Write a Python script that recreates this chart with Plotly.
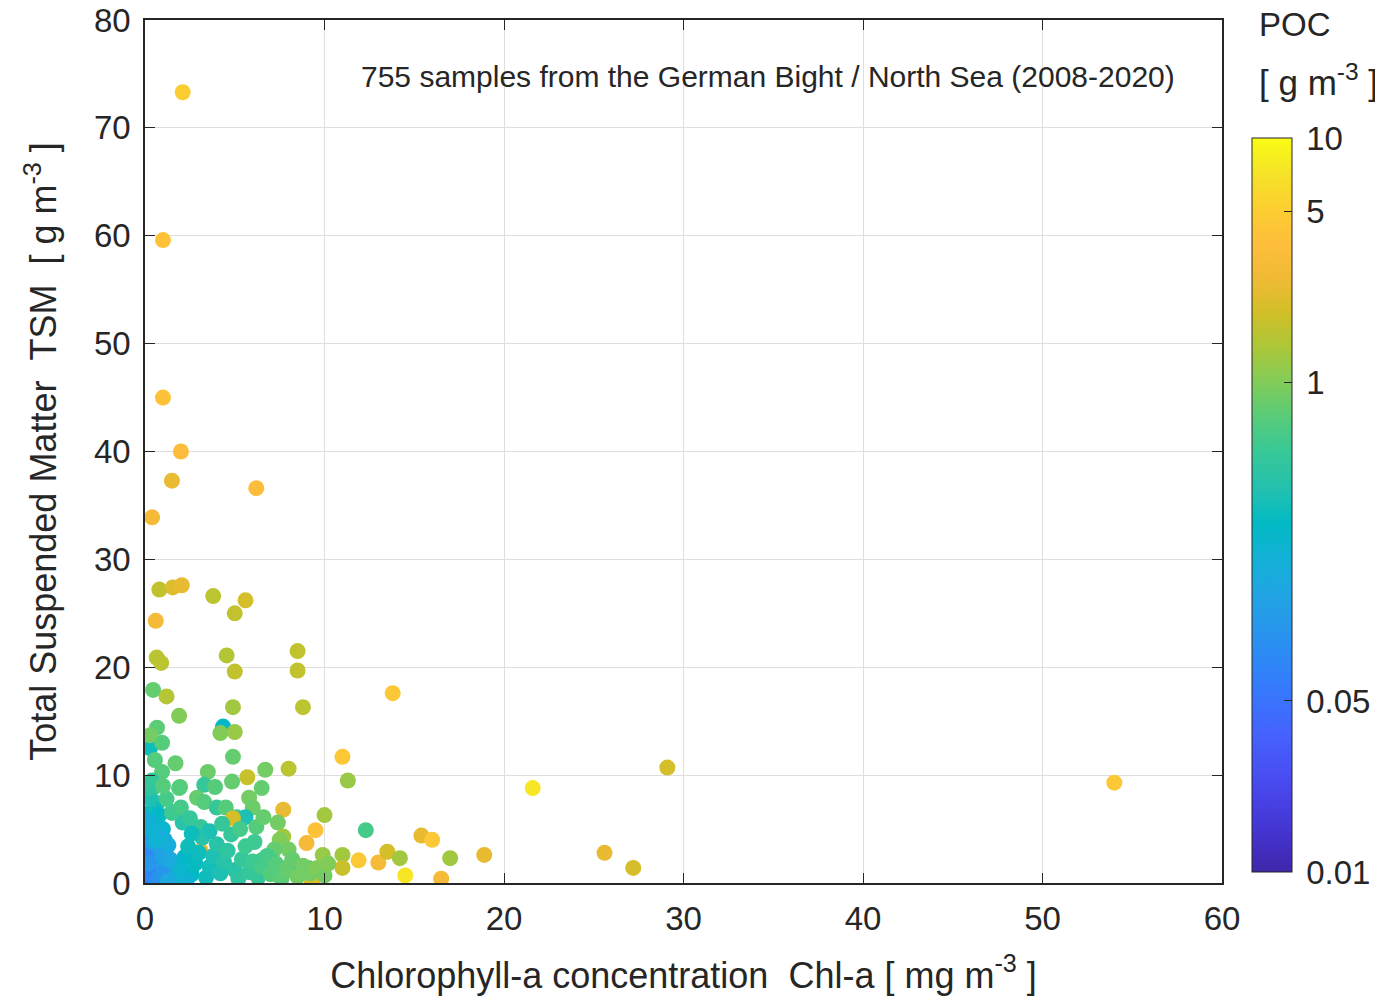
import plotly.graph_objects as go
import numpy as np

# ---- data: (Chl-a [mg m-3], TSM [g m-3], POC [g m-3]) ----
chl = [
    # outliers / sparse points
    2.1, 1.0, 1.0, 2.0, 1.5, 6.2, 0.4, 0.8, 1.55, 2.05, 3.8, 5.6, 5.0, 0.6, 0.65, 0.9,
    4.55, 8.5, 8.5, 5.0, 0.45, 1.2, 8.8, 1.9, 4.9, 13.8, 4.35, 0.67, 0.28, 54.0, 21.6, 29.1,
    # mid-range green points
    0.95, 0.28, 0.55, 0.95, 1.7, 4.2, 5.0, 4.9, 3.5, 6.7, 8.0, 11.0, 11.3, 6.5, 0.45, 1.95,
    3.3, 3.9, 4.85, 5.7, 2.9, 3.3, 4.0, 4.5, 5.8, 6.0, 7.7, 0.7, 1.5, 10.0, 9.5, 9.0,
    12.3, 2.1, 3.1, 5.1, 5.6, 6.2, 7.4, 7.7, 6.6, 4.9, 3.1, 2.05,
    # right-hand low points
    11.0, 11.9, 13.0, 11.0, 9.9, 9.9, 9.1, 7.5, 8.0, 7.2, 6.5, 7.6, 9.3, 7.6, 7.1, 8.7,
    15.4, 16.0, 13.5, 14.2, 14.5, 16.5, 17.0, 18.9, 25.6, 27.2,
    # blue core near origin
    0.05, 0.1, 0.15, 0.1, 0.2, 0.25, 0.35, 0.4, 0.45, 0.5, 0.6, 0.65, 0.7, 0.75, 0.85, 0.9,
    1.0, 1.1, 1.2, 1.3, 0.3, 0.6, 0.2, 0.5, 0.8, 0.3, 0.15, 1.0, 1.1, 0.05, 0.55, 1.4,
    1.5, 1.6, 0.25, 0.4, 0.1, 0.3, 0.2, 0.7, 1.0, 0.4, 0.6,
    # teal band along the bottom
    1.8, 2.0, 2.2, 2.4, 2.6, 2.8, 3.0, 3.2, 3.4, 3.6, 3.8, 4.0, 4.2, 4.4, 4.6, 4.8,
    5.0, 5.2, 5.4, 5.6, 5.8, 6.0, 6.3, 6.5, 6.8, 7.0, 7.3, 7.6, 7.9, 8.2, 8.5, 8.8,
    9.2, 9.6, 10.0, 10.2, 1.2, 1.5, 2.0, 2.5, 1.0, 1.9, 2.6, 3.6, 4.3, 5.3, 6.1, 1.3, 2.3,
]
tsm = [
    73.3, 59.6, 45.0, 40.0, 37.3, 36.6, 33.9, 27.2, 27.4, 27.6, 26.6, 26.2, 25.0, 24.3, 20.9, 20.4,
    21.1, 21.5, 19.7, 19.6, 17.9, 17.3, 16.3, 15.5, 16.3, 17.6, 14.5, 14.4, 12.5, 9.3, 8.8, 10.7,
    13.0, 13.7, 11.4, 10.3, 11.1, 13.9, 14.0, 11.7, 10.3, 10.5, 10.6, 11.7, 9.5, 8.8, 8.8, 8.9,
    9.1, 8.9, 9.4, 9.8, 7.9, 7.5, 7.0, 7.0, 7.9, 7.0, 6.8, 7.4, 6.6, 6.3, 4.9, 3.7,
    4.9, 5.6, 5.2, 6.1, 6.1, 5.2, 5.6, 4.3, 6.1, 6.0, 3.0, 0.3,
    2.6, 2.1, 1.9, 1.4, 2.6, 1.2, 1.4, 4.0, 3.1, 3.1, 2.1, 1.4, 0.1, 0.5, 1.9, 1.5,
    4.4, 4.0, 2.9, 2.3, 0.7, 0.4, 2.3, 2.6, 2.8, 1.4,
    0.3, 1.0, 2.0, 3.0, 4.0, 0.6, 1.5, 2.6, 3.6, 0.2, 1.0, 2.0, 3.0, 4.3, 0.5, 1.5,
    2.5, 0.3, 1.2, 3.5, 5.0, 5.6, 6.5, 7.0, 6.3, 7.8, 5.8, 5.0, 4.0, 2.5, 4.6, 2.2,
    0.6, 1.6, 8.8, 9.5, 0.1, 0.8, 1.8, 0.3, 0.8, 4.9, 3.9,
    0.4, 1.3, 2.4, 3.4, 0.8, 1.8, 2.8, 4.2, 0.5, 1.5, 2.5, 3.6, 0.9, 2.0, 3.0, 4.5,
    1.2, 0.4, 2.2, 3.4, 1.0, 2.0, 0.5, 1.5, 2.5, 0.8, 1.8, 0.4, 1.2, 2.2, 0.6, 1.6,
    0.9, 1.4, 0.7, 1.8, 7.8, 6.5, 7.0, 6.0, 9.0, 8.8, 4.6, 4.8, 5.5, 5.0, 3.8, 0.2, 0.1,
]
poc = [
    5.0, 4.0, 4.0, 3.5, 2.5, 3.5, 3.0, 1.7, 2.2, 2.5, 1.6, 2.0, 1.7, 3.0, 1.6, 1.6,
    1.5, 1.7, 1.7, 1.7, 0.8, 1.5, 1.6, 1.0, 1.3, 4.5, 0.25, 0.75, 0.3, 4.5, 7.5, 2.0,
    0.7, 0.9, 0.7, 0.7, 0.8, 1.0, 1.2, 0.8, 0.85, 0.9, 1.6, 4.5, 1.2, 0.8, 0.6, 0.75,
    0.5, 0.7, 0.8, 1.8, 0.8, 0.7, 0.5, 0.7, 0.9, 0.85, 2.5, 0.45, 0.55, 1.3, 4.0, 3.0,
    0.6, 0.4, 0.5, 0.45, 0.35, 0.7, 0.9, 1.3, 0.8, 2.0, 2.5, 4.0,
    1.3, 4.5, 3.0, 1.8, 1.2, 0.6, 0.7, 1.0, 0.9, 0.8, 0.6, 0.8, 2.0, 0.7, 0.6, 0.5,
    2.5, 4.5, 2.0, 1.3, 7.5, 3.0, 1.3, 2.5, 2.5, 2.0,
    0.07, 0.06, 0.08, 0.09, 0.1, 0.07, 0.08, 0.09, 0.12, 0.08, 0.09, 0.1, 0.12, 0.15, 0.1, 0.11,
    0.13, 0.12, 0.13, 0.17, 0.15, 0.2, 0.25, 0.3, 0.25, 0.35, 0.18, 0.22, 0.18, 0.08, 0.15, 0.15,
    0.14, 0.16, 0.45, 0.5, 0.06, 0.07, 0.1, 0.09, 0.1, 0.2, 0.2,
    0.2, 0.22, 0.25, 0.3, 0.25, 0.28, 0.3, 0.4, 0.3, 0.32, 0.35, 0.4, 0.35, 0.4, 0.45, 0.5,
    0.4, 0.45, 0.5, 0.55, 0.5, 0.55, 0.5, 0.6, 0.6, 0.7, 0.7, 0.75, 0.8, 0.8, 0.9, 0.9,
    0.9, 1.0, 0.9, 1.0, 0.6, 0.55, 0.6, 0.5, 0.7, 0.7, 0.3, 0.35, 0.5, 0.6, 0.55, 0.15, 0.2,
]

x_ticks = [0, 10, 20, 30, 40, 50, 60]
y_ticks = [0, 10, 20, 30, 40, 50, 60, 70, 80]
cb_ticks = [0.01, 0.05, 1, 5, 10]
cb_labels = ["0.01", "0.05", "1", "5", "10"]

parula = [
    [0.2422, 0.1504, 0.6603], [0.2647, 0.1978, 0.7952], [0.2783, 0.2559, 0.8991],
    [0.2810, 0.3228, 0.9579], [0.2699, 0.3892, 0.9906], [0.2206, 0.4603, 0.9973],
    [0.1786, 0.5289, 0.9682], [0.1540, 0.5902, 0.9218], [0.1248, 0.6459, 0.8883],
    [0.0689, 0.6948, 0.8394], [0.0067, 0.7312, 0.7660], [0.1408, 0.7584, 0.6842],
    [0.2161, 0.7843, 0.5923], [0.3406, 0.8008, 0.4789], [0.5044, 0.7993, 0.3480],
    [0.6720, 0.7793, 0.2227], [0.8203, 0.7498, 0.1535], [0.9393, 0.7288, 0.2100],
    [0.9956, 0.7434, 0.2371], [0.9892, 0.8136, 0.1885], [0.9610, 0.8890, 0.1537],
    [0.9769, 0.9839, 0.0805],
]
n = len(parula)
colorscale = [[i / (n - 1), "rgb(%d,%d,%d)" % tuple(int(round(c * 255)) for c in col)]
              for i, col in enumerate(parula)]

FONT = "Liberation Sans, Arial, Helvetica, sans-serif"
TXT = "#262626"
TICK = 33
LAB = 36

fig = go.Figure()
fig.add_trace(go.Scatter(
    x=chl, y=tsm, mode="markers",
    marker=dict(
        size=16, color=np.log10(poc), colorscale=colorscale, cmin=-2, cmax=1,
        line=dict(width=0), opacity=1,
        colorbar=dict(
            tickvals=list(np.log10(cb_ticks)), ticktext=["\u2009" + t for t in cb_labels],
            ticks="inside", ticklen=8, tickcolor=TXT,
            thickness=40, thicknessmode="pixels",
            len=734, lenmode="pixels",
            x=1.0279, xanchor="left", xpad=0,
            y=0.438, yanchor="middle", ypad=0,
            outlinecolor=TXT, outlinewidth=1,
            tickfont=dict(family=FONT, size=TICK, color=TXT),
        ),
    ),
    showlegend=False,
))

fig.update_layout(
    width=1383, height=996,
    margin=dict(l=137, r=169, t=12, b=121),
    paper_bgcolor="white", plot_bgcolor="white",
    font=dict(family=FONT, color=TXT),
    xaxis=dict(
        range=[0, 60], tickvals=x_ticks, ticks="inside", ticklen=10, tickcolor=TXT,
        showline=True, linecolor=TXT, linewidth=1.5, mirror="ticks",
        showgrid=True, gridcolor="#dedede", gridwidth=1, zeroline=False,
        tickfont=dict(size=TICK, color=TXT), ticklabelstandoff=6,
        ticklabeloverflow="allow",
        title=dict(text="Chlorophyll-a concentration&nbsp;&nbsp;Chl-a [ mg m<sup>-3</sup> ]",
                   font=dict(size=LAB, color=TXT), standoff=26),
        automargin=False,
    ),
    yaxis=dict(
        range=[0, 80], tickvals=y_ticks, ticks="inside", ticklen=10, tickcolor=TXT,
        showline=True, linecolor=TXT, linewidth=1.5, mirror="ticks",
        showgrid=True, gridcolor="#dedede", gridwidth=1, zeroline=False,
        tickfont=dict(size=TICK, color=TXT), ticklabelstandoff=6,
        ticklabeloverflow="allow",
        title=dict(text="Total Suspended Matter&nbsp;&nbsp;TSM&nbsp;&nbsp;[ g m<sup>-3</sup> ]",
                   font=dict(size=LAB, color=TXT), standoff=26),
        automargin=False,
    ),
    annotations=[
        dict(text="755 samples from the German Bight / North Sea (2008-2020)",
             x=0.578, y=0.935, xref="paper", yref="paper", showarrow=False,
             xanchor="center", yanchor="middle", font=dict(size=30, color=TXT)),
        dict(text="POC", x=1.068, y=0.995, xref="paper", yref="paper", showarrow=False,
             xanchor="center", yanchor="middle", font=dict(size=33, color=TXT)),
        dict(text="[ g m<sup>-3</sup> ]", x=1.09, y=0.93, xref="paper", yref="paper",
             showarrow=False, xanchor="center", yanchor="middle",
             font=dict(size=35, color=TXT)),
    ],
)

fig.write_html("out.html", config={"displayModeBar": False})
